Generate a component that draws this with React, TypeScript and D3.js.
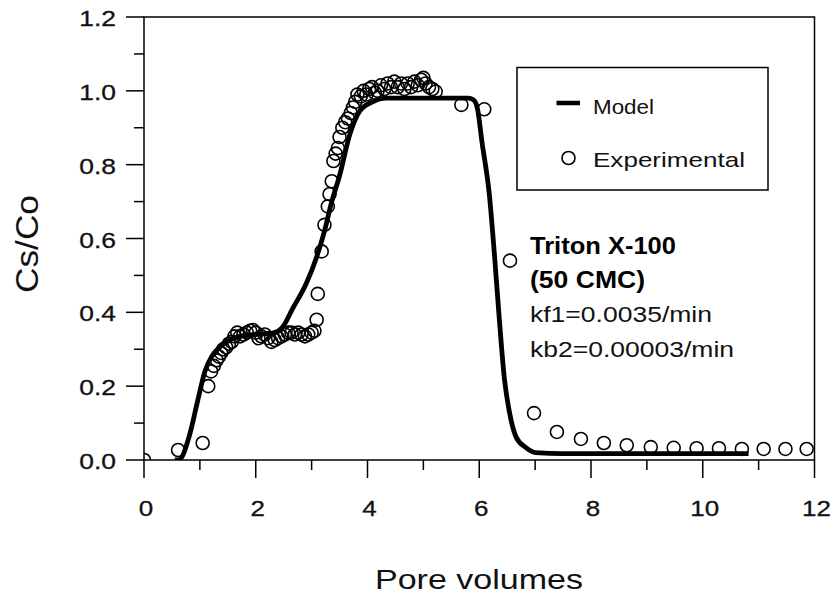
import React from 'react';
import * as d3 from 'd3';

// Model curve (Pore volumes, Cs/Co)
const modelX = [0.55, 0.62, 0.82, 0.96, 1.09, 1.21, 1.35, 1.48, 1.71, 2.0, 2.3, 2.48, 2.66, 2.91, 3.09, 3.23, 3.36, 3.5, 3.68, 3.86, 4.09, 4.34, 5.0, 5.8, 5.9, 5.97, 6.05, 6.18, 6.27, 6.36, 6.45, 6.54, 6.66, 6.84, 7.01, 7.5, 10.82];
const modelY = [0.0, 0.0, 0.07, 0.16, 0.24, 0.28, 0.305, 0.32, 0.335, 0.34, 0.344, 0.36, 0.41, 0.48, 0.55, 0.62, 0.7, 0.77, 0.88, 0.945, 0.97, 0.98, 0.98, 0.98, 0.975, 0.95, 0.86, 0.72, 0.56, 0.38, 0.22, 0.13, 0.062, 0.033, 0.02, 0.017, 0.017];

// Experimental points
const expX = [0.0, 0.61, 1.05, 1.15, 1.2, 1.25, 1.3, 1.34, 1.38, 1.42, 1.47, 1.52, 1.57, 1.62, 1.67, 1.72, 1.78, 1.84, 1.9, 1.95, 2.0, 2.05, 2.1, 2.16, 2.22, 2.28, 2.34, 2.4, 2.46, 2.52, 2.58, 2.64, 2.7, 2.76, 2.82, 2.88, 2.94, 3.0, 3.05, 3.09, 3.11, 3.18, 3.23, 3.29, 3.32, 3.36, 3.39, 3.43, 3.47, 3.5, 3.55, 3.6, 3.65, 3.7, 3.74, 3.78, 3.82, 3.88, 3.93, 3.98, 4.03, 4.08, 4.13, 4.18, 4.24, 4.3, 4.36, 4.42, 4.48, 4.54, 4.6, 4.66, 4.72, 4.78, 4.84, 4.9, 4.96, 5.0, 5.04, 5.1, 5.16, 5.22, 5.68, 6.09, 6.55, 6.98, 7.39, 7.82, 8.23, 8.64, 9.07, 9.48, 9.89, 10.29, 10.7, 11.09, 11.48, 11.86];
const expY = [0.0, 0.027, 0.046, 0.2, 0.24, 0.255, 0.27, 0.28, 0.29, 0.3, 0.305, 0.315, 0.32, 0.335, 0.345, 0.335, 0.34, 0.345, 0.35, 0.352, 0.345, 0.33, 0.335, 0.34, 0.33, 0.32, 0.325, 0.33, 0.335, 0.34, 0.345, 0.345, 0.34, 0.345, 0.34, 0.335, 0.34, 0.345, 0.35, 0.38, 0.45, 0.565, 0.637, 0.687, 0.72, 0.755, 0.81, 0.83, 0.845, 0.875, 0.9, 0.915, 0.925, 0.94, 0.955, 0.97, 0.99, 0.985, 1.0, 0.99, 1.005, 1.01, 0.995, 1.0, 1.015, 1.005, 1.02, 1.01, 1.025, 1.01, 1.02, 1.005, 1.02, 1.01, 1.025, 1.015, 1.03, 1.035, 1.02, 1.01, 1.005, 0.998, 0.962, 0.95, 0.54, 0.127, 0.076, 0.057, 0.046, 0.04, 0.035, 0.033, 0.032, 0.032, 0.03, 0.03, 0.03, 0.03];

const xTicks = [0, 2, 4, 6, 8, 10, 12];
const xMinorTicks = [1, 3, 5, 7, 9, 11];
const yTicks = [0, 0.2, 0.4, 0.6, 0.8, 1.0, 1.2];
const yMinorTicks = [0.1, 0.3, 0.5, 0.7, 0.9, 1.1];
const yTickLabels = ['0.0', '0.2', '0.4', '0.6', '0.8', '1.0', '1.2'];
const xTickLabels = ['0', '2', '4', '6', '8', '10', '12'];

const FONT = "'Liberation Sans', Arial, Helvetica, sans-serif";

export default function App() {
  const W = 833;
  const H = 595;
  const x = d3.scaleLinear().domain([0, 12]).range([144, 814.5]);
  const y = d3.scaleLinear().domain([0, 1.2]).range([460, 17]);
  const modelData = modelX.map((v, i) => [v, modelY[i]] as [number, number]);
  const line = d3
    .line<[number, number]>()
    .x((d) => x(d[0]))
    .y((d) => y(d[1]))
    .curve(d3.curveMonotoneX);

  const [x0, x1] = x.range();
  const [y0, y1] = y.range();

  return (
    <svg
      width={W}
      height={H}
      viewBox={`0 0 ${W} ${H}`}
      style={{ position: 'absolute', left: 0, top: 0, background: '#fff' }}
      fontFamily={FONT}
    >
      <defs>
        <clipPath id="plotClip">
          <rect x={x0} y={y1} width={x1 - x0} height={y0 - y1} />
        </clipPath>
      </defs>
      <rect x={0} y={0} width={W} height={H} fill="#fff" />

      {/* frame */}
      <rect x={x0} y={y1} width={x1 - x0} height={y0 - y1} fill="none" stroke="#000" strokeWidth={1.5} />

      {/* y ticks */}
      {yTicks.map((t, i) => (
        <g key={'yt' + i}>
          <line x1={x0 - 18} x2={x0} y1={y(t)} y2={y(t)} stroke="#000" strokeWidth={1.5} />
          <text
            transform={`translate(116,${y(t) + 9}) scale(1.2,1)`}
            textAnchor="end"
            fontSize={22}
            fill="#111"
            stroke="#111"
            strokeWidth={0.3}
          >
            {yTickLabels[i]}
          </text>
        </g>
      ))}
      {yMinorTicks.map((t, i) => (
        <line key={'ym' + i} x1={x0 - 10} x2={x0} y1={y(t)} y2={y(t)} stroke="#000" strokeWidth={1.5} />
      ))}

      {/* x ticks */}
      {xTicks.map((t, i) => (
        <g key={'xt' + i}>
          <line x1={x(t)} x2={x(t)} y1={y0} y2={y0 + 18} stroke="#000" strokeWidth={1.5} />
          <text
            transform={`translate(${x(t) + 2},${y0 + 56}) scale(1.18,1)`}
            textAnchor="middle"
            fontSize={22}
            fill="#111"
            stroke="#111"
            strokeWidth={0.3}
          >
            {xTickLabels[i]}
          </text>
        </g>
      ))}
      {xMinorTicks.map((t, i) => (
        <line key={'xm' + i} x1={x(t)} x2={x(t)} y1={y0} y2={y0 + 10} stroke="#000" strokeWidth={1.5} />
      ))}

      {/* axis titles */}
      <text x={479} y={589} textAnchor="middle" fontSize={28} textLength={208} lengthAdjust="spacingAndGlyphs" fill="#111">
        Pore volumes
      </text>
      <text
        transform="translate(38,244) rotate(-90)"
        textAnchor="middle"
        fontSize={31}
        textLength={98}
        lengthAdjust="spacingAndGlyphs"
        fill="#111"
      >
        Cs/Co
      </text>

      {/* data */}
      <g clipPath="url(#plotClip)">
        <path d={line(modelData) || ''} fill="none" stroke="#000" strokeWidth={4.8} strokeLinejoin="round" strokeLinecap="butt" />
        {expX.map((v, i) => (
          <circle key={'p' + i} cx={x(v)} cy={y(expY[i])} r={6.5} fill="none" stroke="#000" strokeWidth={1.6} />
        ))}
      </g>

      {/* legend */}
      <rect x={517} y={67.5} width={251} height={122.5} fill="#fff" stroke="#000" strokeWidth={1.5} />
      <line x1={556.5} x2={580} y1={103} y2={103} stroke="#000" strokeWidth={4.5} />
      <text x={593} y={114} fontSize={21} textLength={61} lengthAdjust="spacingAndGlyphs" fill="#111">
        Model
      </text>
      <circle cx={568.5} cy={158} r={6.5} fill="none" stroke="#000" strokeWidth={1.6} />
      <text x={593} y={167} fontSize={21} textLength={152} lengthAdjust="spacingAndGlyphs" fill="#111">
        Experimental
      </text>

      {/* annotation */}
      <text x={530} y={254} fontSize={23} fontWeight="bold" textLength={146} lengthAdjust="spacingAndGlyphs" fill="#000">
        Triton X-100
      </text>
      <text x={530} y={288} fontSize={23} fontWeight="bold" textLength={115} lengthAdjust="spacingAndGlyphs" fill="#000">
        (50 CMC)
      </text>
      <text x={530} y={322} fontSize={22} textLength={182} lengthAdjust="spacingAndGlyphs" fill="#111">
        kf1=0.0035/min
      </text>
      <text x={530} y={357} fontSize={22} textLength={204} lengthAdjust="spacingAndGlyphs" fill="#111">
        kb2=0.00003/min
      </text>
    </svg>
  );
}
